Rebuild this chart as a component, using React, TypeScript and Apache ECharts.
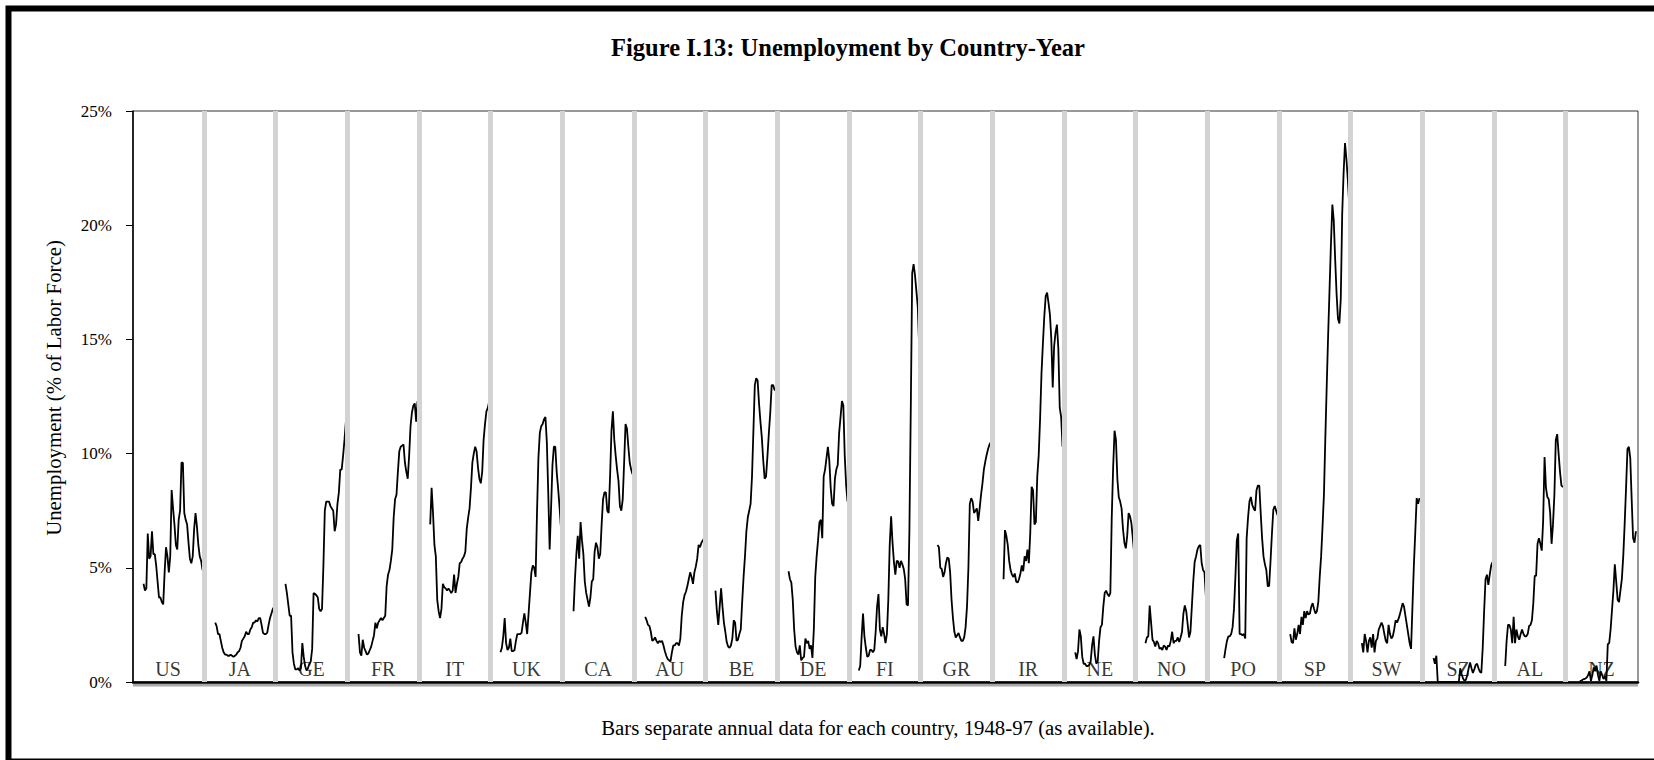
import React, { useEffect, useRef } from 'react';
import * as echarts from 'echarts';

// ---------- data ----------
const countries = ['US', 'JA', 'GE', 'FR', 'IT', 'UK', 'CA', 'AU', 'BE', 'DE', 'FI', 'GR', 'IR', 'NE', 'NO', 'PO', 'SP', 'SW', 'SZ', 'AL', 'NZ'];
// first year of available data for each country (series run to 1997 unless shorter)
const firstYear = [1955, 1955, 1954, 1955, 1955, 1954, 1955, 1955, 1954, 1955, 1954, 1959, 1955, 1955, 1954, 1959, 1955, 1955, 1955, 1955, 1957];

const US = [4.3, 4.0, 4.1, 6.5, 5.4, 5.5, 6.6, 5.6, 5.6, 5.1, 4.4, 3.7, 3.7, 3.5, 3.4, 4.8, 5.9, 5.5, 4.8, 5.5, 8.4, 7.6, 6.9, 6.0, 5.8, 7.1, 7.5, 9.6, 9.6, 7.4, 7.1, 6.9, 6.1, 5.4, 5.2, 5.5, 6.7, 7.4, 6.8, 6.0, 5.5, 5.3, 4.9];
const JA = [2.6, 2.45, 2.1, 2.1, 1.8, 1.5, 1.3, 1.2, 1.2, 1.15, 1.15, 1.2, 1.15, 1.1, 1.15, 1.2, 1.3, 1.35, 1.5, 1.8, 1.9, 2.0, 2.2, 2.1, 2.1, 2.3, 2.4, 2.6, 2.6, 2.7, 2.65, 2.8, 2.8, 2.5, 2.15, 2.1, 2.1, 2.15, 2.5, 2.8, 3.0, 3.2, 3.3];
const GE = [4.3, 3.9, 3.4, 2.9, 2.9, 1.3, 0.8, 0.55, 0.55, 0.6, 0.5, 0.6, 1.7, 1.1, 0.7, 0.5, 0.6, 0.8, 0.9, 1.45, 3.9, 3.85, 3.8, 3.7, 3.2, 3.1, 3.2, 5.1, 7.5, 7.9, 7.9, 7.9, 7.7, 7.6, 7.5, 6.6, 6.9, 7.8, 8.3, 9.3, 9.3, 9.9, 10.6, 11.4];
const FR = [2.1, 1.3, 1.15, 1.85, 1.5, 1.35, 1.2, 1.25, 1.4, 1.55, 1.8, 2.05, 2.6, 2.35, 2.6, 2.7, 2.8, 2.7, 2.8, 2.9, 4.2, 4.7, 4.9, 5.3, 5.8, 7.2, 8.0, 8.2, 9.2, 10.1, 10.3, 10.35, 10.4, 9.6, 9.2, 8.9, 9.9, 11.2, 11.8, 12.1, 12.2, 11.4, 12.3];
const IT = [6.9, 8.5, 7.4, 6.0, 5.5, 3.6, 3.1, 2.8, 3.2, 4.3, 4.15, 4.1, 4.0, 4.1, 4.0, 3.9, 4.0, 4.7, 3.9, 4.3, 4.6, 5.2, 5.25, 5.4, 5.5, 5.7, 6.7, 7.2, 7.6, 8.5, 9.6, 10.0, 10.3, 10.1, 9.4, 8.9, 8.7, 9.2, 10.6, 11.3, 11.85, 12.0, 12.3];
const UK = [1.3, 1.5, 2.0, 2.8, 1.7, 1.4, 1.5, 1.9, 1.35, 1.35, 1.4, 1.8, 2.1, 2.1, 2.1, 2.15, 2.6, 3.0, 2.6, 2.1, 3.0, 3.9, 4.8, 5.1, 5.0, 4.6, 7.4, 9.8, 10.9, 11.2, 11.3, 11.5, 11.6, 10.5, 8.3, 5.8, 7.6, 9.5, 10.3, 10.3, 9.2, 8.5, 7.7, 6.8];
const CA = [3.1, 4.5, 5.6, 6.4, 5.4, 7.0, 6.2, 5.6, 4.4, 3.9, 3.6, 3.3, 3.7, 4.4, 4.5, 5.7, 6.1, 5.9, 5.4, 5.6, 6.9, 8.0, 8.3, 8.3, 7.5, 7.4, 9.0, 11.0, 11.85, 10.6, 9.9, 9.3, 8.8, 7.7, 7.5, 8.0, 9.6, 11.3, 11.1, 10.3, 9.6, 9.3, 9.1];
const AU = [2.85, 2.7, 2.5, 2.45, 2.2, 1.8, 1.85, 1.95, 1.8, 1.7, 1.8, 1.75, 1.8, 1.6, 1.35, 1.15, 1.0, 0.95, 0.9, 1.3, 1.6, 1.6, 1.7, 1.7, 1.6, 1.9, 2.9, 3.5, 3.8, 3.95, 4.2, 4.5, 4.8, 4.6, 4.3, 4.8, 5.05, 5.4, 6.0, 5.9, 6.1, 6.2, 6.3];
const BE = [4.0, 3.1, 2.5, 3.3, 4.1, 3.3, 2.6, 2.2, 1.75, 1.55, 1.5, 1.6, 1.9, 2.7, 2.6, 1.8, 1.85, 2.1, 2.3, 3.5, 4.6, 5.5, 6.6, 7.2, 7.5, 7.8, 9.0, 11.0, 13.0, 13.3, 13.2, 12.2, 11.4, 10.7, 9.7, 8.9, 9.0, 9.9, 10.9, 11.8, 13.0, 13.0, 12.8, 12.75];
const DE = [4.85, 4.5, 4.35, 3.6, 2.3, 1.55, 1.3, 1.2, 1.6, 0.95, 1.05, 1.1, 1.9, 1.7, 1.8, 1.45, 1.6, 1.05, 2.3, 4.6, 5.5, 6.2, 7.0, 7.1, 6.3, 9.0, 9.3, 9.8, 10.3, 9.7, 8.5, 7.8, 7.7, 8.9, 9.3, 9.5, 10.9, 11.6, 12.3, 12.1, 9.9, 8.6, 7.9];
const FI = [0.5, 0.7, 1.95, 3.0, 2.0, 1.5, 1.1, 1.15, 1.4, 1.4, 1.3, 1.4, 2.2, 3.3, 3.85, 2.3, 2.0, 2.4, 2.1, 1.7, 2.1, 3.6, 6.0, 7.25, 6.1, 5.25, 4.7, 5.3, 5.28, 5.0, 5.3, 5.15, 4.95, 4.5, 3.4, 3.35, 6.6, 12.0, 17.9, 18.3, 17.8, 17.1, 16.4, 14.6];
const GR = [6.0, 5.9, 5.0, 4.95, 4.6, 4.8, 5.2, 5.45, 5.4, 4.8, 3.6, 2.8, 2.2, 1.95, 2.05, 2.15, 1.95, 1.8, 1.8, 1.95, 2.4, 3.3, 5.0, 7.8, 8.05, 7.9, 7.4, 7.5, 7.6, 7.05, 7.6, 8.2, 8.7, 9.3, 9.65, 9.95, 10.2, 10.4, 10.5];
const IR = [4.5, 6.65, 6.4, 6.0, 5.3, 4.9, 4.7, 4.6, 4.75, 4.4, 4.35, 4.5, 4.75, 5.1, 4.85, 5.5, 5.3, 5.8, 5.2, 6.5, 8.55, 8.4, 6.9, 7.0, 9.0, 9.9, 11.5, 13.5, 14.8, 16.0, 16.9, 17.05, 16.6, 16.1, 15.0, 12.9, 14.7, 15.3, 15.65, 14.6, 12.0, 11.6, 10.3];
const NE = [1.3, 1.0, 1.35, 2.3, 2.0, 1.1, 0.8, 0.8, 0.7, 0.7, 0.75, 0.9, 1.6, 2.0, 1.2, 0.8, 0.9, 1.8, 2.4, 2.5, 3.3, 3.9, 4.0, 3.85, 3.75, 3.9, 7.2, 9.4, 11.0, 10.6, 8.9, 8.1, 7.9, 7.6, 6.7, 6.1, 5.85, 6.4, 7.4, 7.25, 6.95, 6.3, 5.6];
const NO = [1.7, 1.95, 2.0, 3.35, 2.6, 1.85, 1.75, 1.55, 1.8, 1.7, 1.45, 1.5, 1.4, 1.6, 1.55, 1.4, 1.6, 1.55, 1.8, 2.2, 1.7, 1.8, 1.8, 1.95, 1.75, 1.95, 2.2, 3.0, 3.35, 3.1, 2.55, 1.95, 2.2, 3.3, 4.4, 5.25, 5.5, 5.8, 5.95, 6.0, 5.2, 4.9, 4.8, 3.75];
const PO = [1.05, 1.45, 1.8, 2.0, 2.0, 2.1, 2.4, 3.2, 4.6, 6.2, 6.5, 2.1, 2.1, 2.05, 2.1, 1.9, 6.3, 7.2, 7.9, 8.1, 7.75, 7.6, 7.5, 8.4, 8.6, 8.6, 7.4, 6.3, 5.5, 5.15, 4.9, 4.2, 4.2, 5.3, 6.5, 7.55, 7.7, 7.5, 7.3];
const SP = [2.1, 1.75, 1.7, 2.35, 1.85, 2.1, 2.5, 2.1, 2.85, 2.5, 3.1, 2.8, 3.1, 2.95, 3.0, 3.3, 3.45, 3.2, 3.0, 3.1, 3.5, 4.6, 5.5, 6.8, 8.2, 10.7, 13.0, 15.2, 17.2, 19.2, 20.9, 20.2, 18.5, 17.0, 15.9, 15.7, 16.8, 20.5, 22.3, 23.6, 22.9, 22.0, 20.9];
const SW = [1.7, 1.3, 2.1, 1.8, 1.3, 1.8, 1.95, 1.5, 2.1, 1.3, 1.8, 1.9, 2.3, 2.45, 2.6, 2.45, 2.1, 1.8, 1.7, 2.5, 2.1, 1.9, 2.0, 2.3, 2.7, 2.6, 2.75, 2.95, 3.2, 3.45, 3.3, 2.9, 2.5, 2.1, 1.7, 1.45, 3.3, 5.1, 6.55, 8.05, 7.8, 8.05];
const SZ = [1.05, 0.8, 1.15, 0, 0, 0, 0, 0, 0, 0, 0, 0, 0, 0, 0, 0, 0, 0, 0, 0.6, 0.35, 0.15, 0.05, 0.1, 0.3, 0.6, 0.85, 0.6, 0.4, 0.55, 0.75, 0.8, 0.6, 0.45, 0.4, 1.5, 3.1, 4.5, 4.7, 4.25, 4.7, 5.1, 5.25];
const AL = [0.7, 1.8, 2.5, 2.5, 2.3, 1.7, 2.85, 1.7, 2.3, 2.0, 1.85, 2.1, 2.3, 2.1, 2.0, 2.0, 2.1, 2.45, 2.5, 2.7, 3.45, 4.65, 4.65, 6.05, 6.3, 6.05, 5.75, 7.05, 9.85, 8.5, 8.1, 8.0, 7.4, 6.05, 6.9, 8.2, 10.6, 10.85, 10.0, 9.2, 8.6, 8.55, 8.6];
const NZ = [0.05, 0.05, 0.1, 0.13, 0.15, 0.2, 0.3, 0.47, 0.05, 0.3, 0.64, 0.47, 0.72, 0.3, 0.05, 0.47, 0.3, 0.13, 0.25, 0.05, 1.65, 1.7, 2.3, 3.15, 4.0, 5.15, 4.4, 3.6, 3.5, 4.0, 4.5, 5.5, 6.9, 8.5, 10.2, 10.3, 9.8, 8.0, 6.3, 6.1, 6.6];

const seriesValues = [US, JA, GE, FR, IT, UK, CA, AU, BE, DE, FI, GR, IR, NE, NO, PO, SP, SW, SZ, AL, NZ];
const yTicks = [0, 5, 10, 15, 20, 25];

// ---------- layout constants ----------
const FONT = '"Liberation Serif", "Times New Roman", Times, serif';
const YEAR0 = 1948;
const YEARS = 50; // 1948-97
const SLOT = YEARS + 1; // one extra slot per country holds the separator bar

export default function App() {
  const ref = useRef<HTMLDivElement>(null);

  useEffect(() => {
    const chart = echarts.init(ref.current as HTMLDivElement, null, { renderer: 'svg' });

    const separators = countries.slice(0, -1).map((_, i) => ({ xAxis: i * SLOT + YEARS + 0.5 }));

    const lineSeries: any[] = countries.map((c, i) => ({
      type: 'line',
      name: c,
      data: seriesValues[i].map((v, j) => [i * SLOT + (firstYear[i] - YEAR0) + j + 0.5, v]),
      symbol: 'none',
      showSymbol: false,
      lineStyle: { color: '#000', width: 1.8 },
      itemStyle: { color: '#000' },
      silent: true,
      z: 3,
      ...(i === 0
        ? {
            markLine: {
              silent: true,
              symbol: ['none', 'none'],
              label: { show: false },
              emphasis: { disabled: true },
              lineStyle: { color: '#d3d3d3', width: 5, type: 'solid' },
              data: separators,
            },
          }
        : {}),
    }));

    lineSeries.push({
      type: 'scatter',
      data: countries.map((c, i) => ({ value: [i * SLOT + 25, 0.57], name: c })),
      symbolSize: 1,
      itemStyle: { color: 'rgba(0,0,0,0)' },
      label: {
        show: true,
        position: 'inside',
        formatter: '{b}',
        color: '#000',
        fontSize: 20,
        fontFamily: FONT,
      },
      silent: true,
      z: 4,
    });

    chart.setOption({
      animation: false,
      backgroundColor: '#fff',
      grid: {
        left: 133,
        right: 16,
        top: 111,
        bottom: 78,
        show: true,
        borderColor: '#333',
        borderWidth: 1,
        backgroundColor: 'transparent',
        containLabel: false,
        outerBoundsMode: 'none',
      },
      xAxis: {
        type: 'value',
        min: 0,
        max: countries.length * SLOT,
        axisLine: { show: true, onZero: false, lineStyle: { color: '#000', width: 2.5 } },
        axisTick: { show: false },
        axisLabel: { show: false },
        splitLine: { show: false },
      },
      yAxis: {
        type: 'value',
        min: yTicks[0],
        max: yTicks[yTicks.length - 1],
        interval: 5,
        axisLine: { show: true, lineStyle: { color: '#000', width: 1.5 } },
        axisTick: { show: true, inside: false, length: 7, lineStyle: { color: '#000', width: 1 } },
        axisLabel: {
          formatter: '{value}%',
          color: '#000',
          fontSize: 17,
          fontFamily: FONT,
          margin: 21,
        },
        splitLine: { show: false },
      },
      series: lineSeries,
      graphic: [
        {
          type: 'rect',
          silent: true,
          shape: { x: 8.5, y: 8.5, width: 1720, height: 753 },
          style: { fill: 'none', stroke: '#000', lineWidth: 6 },
        },
        {
          type: 'rect',
          silent: true,
          shape: { x: 133, y: 683.5, width: 1505, height: 3 },
          style: { fill: '#a8a8a8' },
        },
        {
          type: 'text',
          silent: true,
          x: 848,
          y: 47,
          style: {
            text: 'Figure I.13: Unemployment by Country-Year',
            font: `bold 24.5px ${FONT}`,
            fill: '#000',
            align: 'center',
            verticalAlign: 'middle',
          },
        },
        {
          type: 'text',
          silent: true,
          x: 53,
          y: 388,
          rotation: Math.PI / 2,
          style: {
            text: 'Unemployment (% of Labor Force)',
            font: `20.8px ${FONT}`,
            fill: '#000',
            align: 'center',
            verticalAlign: 'middle',
          },
        },
        {
          type: 'text',
          silent: true,
          x: 878,
          y: 727,
          style: {
            text: 'Bars separate annual data for each country, 1948-97 (as available).',
            font: `20.8px ${FONT}`,
            fill: '#000',
            align: 'center',
            verticalAlign: 'middle',
          },
        },
      ],
    });

    return () => {
      chart.dispose();
    };
  }, []);

  return (
    <div
      ref={ref}
      style={{ position: 'fixed', left: 0, top: 0, width: 1654, height: 760, background: '#fff' }}
    />
  );
}
